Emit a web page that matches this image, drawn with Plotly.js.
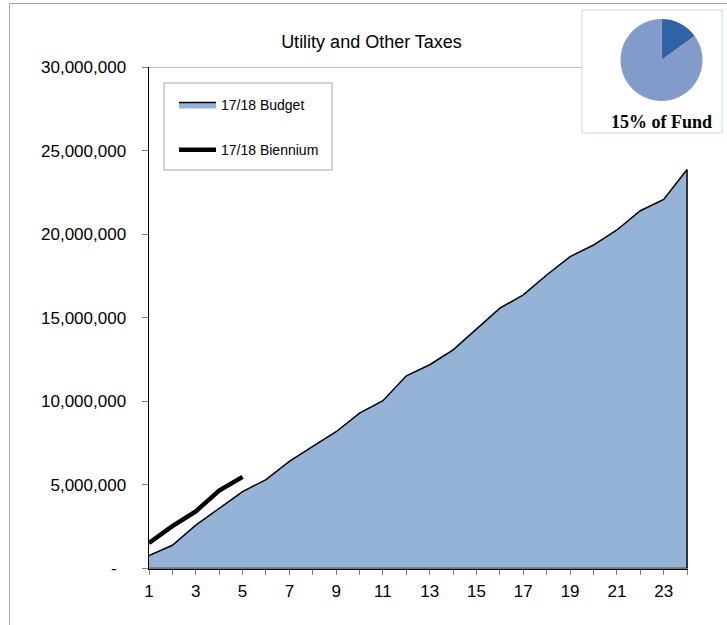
<!DOCTYPE html>
<html>
<head>
<meta charset="utf-8">
<script src="https://cdn.plot.ly/plotly-3.0.1.min.js"></script>
<style>
html,body{margin:0;padding:0;background:#fff;}
#chart{width:727px;height:625px;}
</style>
</head>
<body>
<div id="chart"></div>
<script>
// ---- data ----
const periods = [1,2,3,4,5,6,7,8,9,10,11,12,13,14,15,16,17,18,19,20,21,22,23,24];
const budget1718 = [780000,1390000,2590000,3620000,4600000,5320000,6410000,7310000,8180000,9300000,10040000,11530000,12190000,13080000,14320000,15570000,16370000,17560000,18660000,19350000,20250000,21400000,22080000,23870000];
const bienniumPeriods = [1,2,3,4,5];
const biennium1718 = [1530000,2530000,3420000,4660000,5480000];
const yTickVals = [0,5000000,10000000,15000000,20000000,25000000,30000000];
const yTickText = ["-\u00a0\u00a0","5,000,000","10,000,000","15,000,000","20,000,000","25,000,000","30,000,000"];
const gridVals = [5000000,10000000,15000000,20000000,25000000];
const pieLabels = ["Utility and Other Taxes","Rest of Fund"];
const pieValues = [15,85];
const seriesNames = ["17/18 Budget","17/18 Biennium"];
const chartTitle = "Utility and Other Taxes";

// ---- helpers (pixel -> paper) ----
const W = 727, H = 625;
const px = x => x / W;
const py = y => (H - y) / H;

const F = "Liberation Sans, Arial, sans-serif";

// closed outline of the budget area (from the data arrays)
const areaX = periods.concat([periods[periods.length-1], periods[0]]);
const areaY = budget1718.concat([0, 0]);

const traces = [
  {
    type: "scatter", mode: "lines", name: seriesNames[0],
    x: areaX, y: areaY, fill: "toself", fillcolor: "#95B3D7",
    line: {color: "#000000", width: 1.5},
    legendgroup: "a", hoverinfo: "skip"
  },
  {
    type: "scatter", mode: "lines", name: seriesNames[1],
    x: bienniumPeriods, y: biennium1718,
    line: {color: "#000000", width: 4.5},
    legendgroup: "b", hoverinfo: "skip"
  },
  {
    type: "pie", labels: pieLabels, values: pieValues,
    sort: false, direction: "clockwise", rotation: 0,
    marker: {colors: ["#2F63A6", "#829BCB"], line: {width: 0}},
    textinfo: "none", hoverinfo: "skip", showlegend: false,
    domain: {x: [px(620), px(703)], y: [py(101), py(19)]}
  }
];

const layout = {
  width: W, height: H,
  margin: {l: 0, r: 0, t: 0, b: 0},
  paper_bgcolor: "#ffffff", plot_bgcolor: "rgba(0,0,0,0)",
  font: {family: F, color: "#000000"},
  title: {
    text: chartTitle, font: {family: F, size: 18, color: "#000"},
    x: px(371.5), xanchor: "center", xref: "paper",
    y: py(42), yanchor: "middle", yref: "paper"
  },
  showlegend: true,
  legend: {
    x: px(174), y: py(89), xanchor: "left", yanchor: "top",
    bgcolor: "rgba(0,0,0,0)", borderwidth: 0,
    font: {family: F, size: 14, color: "#000"},
    traceorder: "grouped", tracegroupgap: 24, itemwidth: 37
  },
  xaxis: {
    domain: [px(149), px(688)], range: [1, 24.04],
    tickmode: "linear", tick0: 1, dtick: 2,
    ticks: "outside", ticklen: 5, tickcolor: "#808080", tickwidth: 1,
    minor: {tickmode: "linear", tick0: 1, dtick: 1, ticks: "outside", ticklen: 5, tickcolor: "#808080", showgrid: false},
    showline: true, linecolor: "#000000", linewidth: 1.5,
    showgrid: false, zeroline: false,
    tickfont: {family: F, size: 17, color: "#000"},
    ticklabelstandoff: 2
  },
  yaxis: {
    domain: [py(568.5), py(67)], range: [0, 30000000],
    tickmode: "array", tickvals: yTickVals, ticktext: yTickText,
    ticks: "outside", ticklen: 6, tickcolor: "#808080", tickwidth: 1,
    showline: true, linecolor: "#000000", linewidth: 1.5,
    showgrid: false, zeroline: false,
    tickfont: {family: F, size: 17, color: "#000"},
    ticklabelstandoff: 12
  },
  yaxis2: {
    overlaying: "y", matches: "y", range: [0, 30000000],
    tickmode: "array", tickvals: gridVals,
    showgrid: true, gridcolor: "#808080", gridwidth: 1,
    showticklabels: false, ticks: "", showline: false, zeroline: false
  },
  shapes: [
    // top gridline (stops at the pie box)
    {type: "line", xref: "paper", yref: "y", x0: px(149), x1: px(582), y0: 30000000, y1: 30000000,
     line: {color: "#808080", width: 1}, layer: "below"},
    // legend box
    {type: "rect", xref: "paper", yref: "paper", x0: px(164), x1: px(332), y0: py(170), y1: py(83),
     fillcolor: "#ffffff", line: {color: "#A6A6A6", width: 1}, layer: "above"},
    // pie box
    {type: "rect", xref: "paper", yref: "paper", x0: px(582), x1: px(722), y0: py(133), y1: py(10),
     fillcolor: "#ffffff", line: {color: "#C9D7E8", width: 1}, layer: "below"},
    // outer chart frame (left and top edges)
    {type: "line", xref: "paper", yref: "paper", x0: px(9.5), x1: px(9.5), y0: 0, y1: py(3.5),
     line: {color: "#A6A6A6", width: 1}, layer: "below"},
    {type: "line", xref: "paper", yref: "paper", x0: px(9.5), x1: 1, y0: py(3.5), y1: py(3.5),
     line: {color: "#A6A6A6", width: 1}, layer: "below"}
  ],
  annotations: [
    {xref: "paper", yref: "paper", x: px(661), y: py(122), xanchor: "center", yanchor: "middle",
     text: "<b>" + pieValues[0] + "% of Fund</b>", showarrow: false,
     font: {family: "Liberation Serif, Times New Roman, serif", size: 18, color: "#000"}}
  ]
};

Plotly.newPlot("chart", traces, layout, {staticPlot: true, displayModeBar: false});
</script>
</body>
</html>
